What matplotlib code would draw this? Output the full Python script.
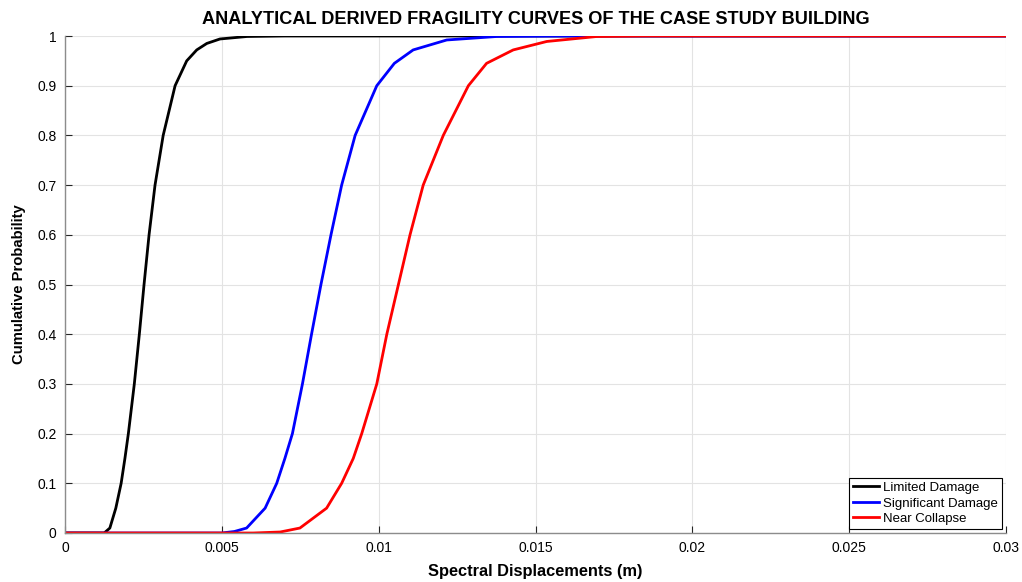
import numpy as np
import matplotlib
matplotlib.use('Agg')
import matplotlib.pyplot as plt

plt.rcParams['font.family'] = ['Liberation Sans', 'DejaVu Sans']

# values
xLimited = [0.0, 0.00125, 0.00143, 0.00162, 0.00179, 0.00191, 0.00202, 0.00221, 0.00237,
            0.00252, 0.00268, 0.00287, 0.00313, 0.00351, 0.00388, 0.00420, 0.00452,
            0.00494, 0.0058, 0.007, 0.03]
yLimited = [0.0, 0.0, 0.01, 0.05, 0.1, 0.15, 0.2, 0.3, 0.4,
            0.5, 0.6, 0.7, 0.8, 0.9, 0.95, 0.972, 0.985,
            0.994, 0.999, 1.0, 1.0]

xSignif = [0.0, 0.005, 0.0054, 0.00579, 0.00638, 0.00675, 0.00701, 0.00725, 0.00757,
           0.00786, 0.00816, 0.00848, 0.00882, 0.00925, 0.00994, 0.0105, 0.0111,
           0.01217, 0.01376, 0.016, 0.03]
ySignif = [0.0, 0.0, 0.003, 0.01, 0.05, 0.1, 0.15, 0.2, 0.3,
           0.4, 0.5, 0.6, 0.7, 0.8, 0.9, 0.945, 0.972,
           0.992, 0.999, 1.0, 1.0]

xCollapse = [0.0, 0.0060, 0.00686, 0.00749, 0.00834, 0.00882, 0.00919, 0.00946, 0.00994,
             0.01026, 0.01063, 0.01100, 0.01142, 0.01206, 0.01286, 0.01344, 0.01429,
             0.01536, 0.01695, 0.0185, 0.03]
yCollapse = [0.0, 0.0, 0.002, 0.01, 0.05, 0.1, 0.15, 0.2, 0.3,
             0.4, 0.5, 0.6, 0.7, 0.8, 0.9, 0.945, 0.972,
             0.989, 0.999, 1.0, 1.0]

fig = plt.figure(figsize=(10.22, 5.82), dpi=100)
ax = fig.add_axes([65/1022, 49/582, 941/1022, 497/582])

ax.plot(xLimited, yLimited, color='black', lw=2.0, label='Limited Damage')
ax.plot(xSignif, ySignif, color='blue', lw=2.0, label='Significant Damage')
ax.plot(xCollapse, yCollapse, color='red', lw=2.0, label='Near Collapse')

ax.set_xlim(0, 0.03)
ax.set_ylim(0, 1)
ax.set_xticks(np.arange(0, 0.0301, 0.005))
ax.set_xticklabels(['0', '0.005', '0.01', '0.015', '0.02', '0.025', '0.03'])
ax.set_yticks(np.arange(0, 1.01, 0.1))
ax.set_yticklabels(['0', '0.1', '0.2', '0.3', '0.4', '0.5', '0.6', '0.7', '0.8', '0.9', '1'])
ax.tick_params(direction='in', length=5, width=0.8, color='#262626', labelsize=10, pad=6)
ax.grid(True, color='#e3e3e3', lw=0.8)
ax.set_axisbelow(True)
for s in ['top', 'right']:
    ax.spines[s].set_visible(False)
for s in ['left', 'bottom']:
    ax.spines[s].set_color('#8c8c8c')
    ax.spines[s].set_linewidth(1.0)

ax.set_xlabel('Spectral Displacements (m)', fontsize=11.8, fontweight='bold', labelpad=6)
ax.set_ylabel('Cumulative Probability', fontsize=10.7, fontweight='bold', labelpad=8)
ax.set_title('ANALYTICAL DERIVED FRAGILITY CURVES OF THE CASE STUDY BUILDING',
             fontsize=13.1, fontweight='bold', pad=9)

leg = ax.legend(loc='lower right', fontsize=9.5, fancybox=False, framealpha=1,
                edgecolor='black', borderpad=0.3, labelspacing=0.25,
                handlelength=2.0, handletextpad=0.3, borderaxespad=0.3)
leg.get_frame().set_linewidth(0.8)

fig.savefig('out.png', dpi=100)
